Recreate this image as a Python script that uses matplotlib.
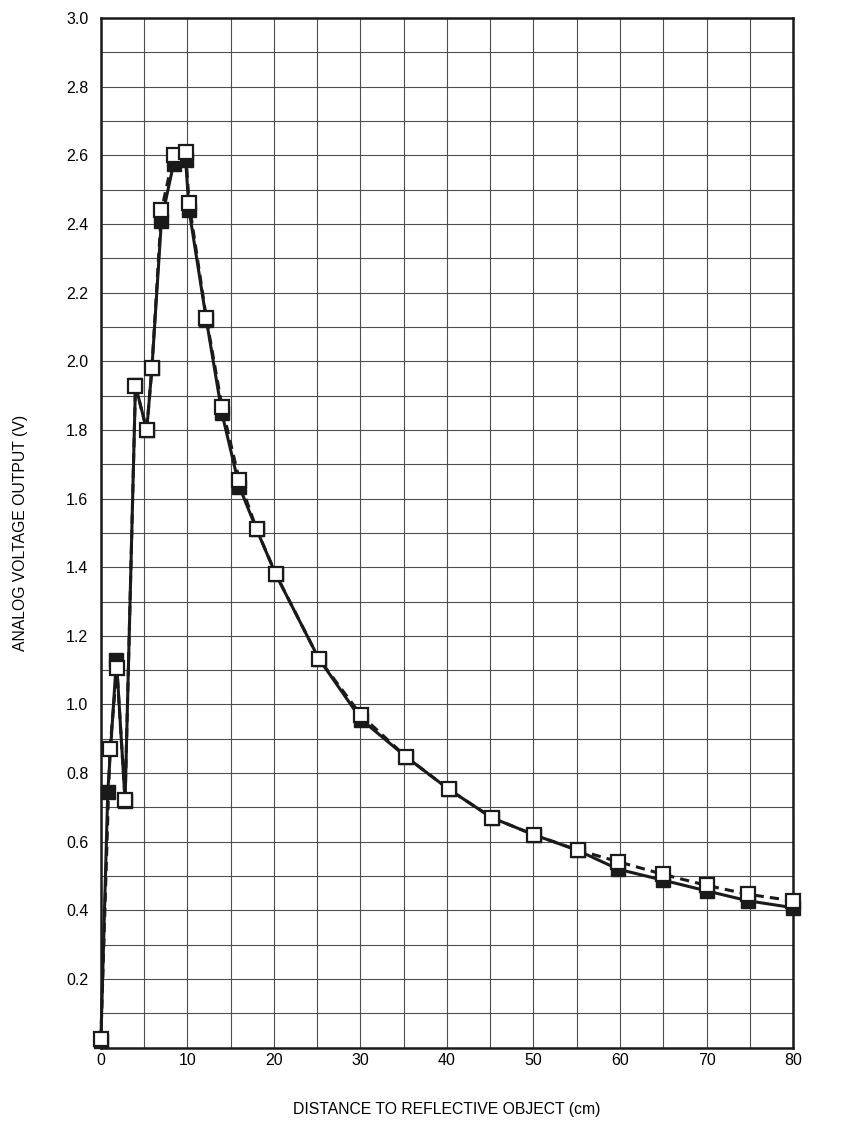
import matplotlib.pyplot as plt
import numpy as np

plt.rcParams["font.family"] = ["Liberation Sans", "DejaVu Sans"]

# Distance (cm) and output voltage (V) for the two curves
dist_solid = [0, 0.8, 1.8, 2.8, 4, 5.3, 5.9, 7, 8.4, 9.8, 10.2, 12.2, 14, 16, 18, 20.2,
              25.2, 30.1, 35.3, 40.2, 45.2, 50.1, 55.1, 59.8, 65, 70, 74.8, 80]
volt_solid = [0.02, 0.745, 1.13, 0.72, 1.93, 1.80, 1.98, 2.41, 2.575, 2.585, 2.44, 2.12, 1.848,
              1.635, 1.51, 1.38, 1.133, 0.956, 0.847, 0.753, 0.67, 0.62, 0.575, 0.52, 0.488,
              0.457, 0.428, 0.408]

dist_dashed = [0, 1.05, 1.85, 2.8, 4, 5.3, 5.9, 7, 8.4, 9.8, 10.2, 12.2, 14, 16, 18, 20.2,
               25.2, 30.1, 35.3, 40.2, 45.2, 50.1, 55.1, 59.8, 65, 70, 74.8, 80]
volt_dashed = [0.025, 0.871, 1.105, 0.722, 1.928, 1.80, 1.98, 2.44, 2.60, 2.61, 2.46, 2.125, 1.868,
               1.654, 1.511, 1.381, 1.133, 0.968, 0.847, 0.753, 0.67, 0.62, 0.576, 0.542, 0.505,
               0.473, 0.447, 0.428]

fig = plt.figure(figsize=(8.62, 11.29), dpi=100)
ax = fig.add_axes([0.117, 0.072, 0.803, 0.912])

ax.plot(dist_solid, volt_solid, color="#1a1a1a", lw=2.2, marker="s", markersize=9.5,
        markerfacecolor="#1a1a1a", markeredgecolor="#1a1a1a", zorder=3, clip_on=False)
ax.plot(dist_dashed, volt_dashed, color="#1a1a1a", lw=2.2, ls=(0, (3, 2)), marker="s",
        markersize=9.5, markerfacecolor="white", markeredgecolor="#1a1a1a",
        markeredgewidth=1.6, zorder=4, clip_on=False)

ax.set_xlim(0, 80)
ax.set_ylim(0, 3.0)
ax.set_xticks(np.arange(0, 81, 5), minor=True)
ax.set_yticks(np.arange(0, 3.01, 0.1), minor=True)
ax.set_xticks(np.arange(0, 81, 10))
ax.set_yticks(np.round(np.arange(0.2, 3.01, 0.2), 1))
ax.set_yticklabels([f"{v:.1f}" for v in np.arange(0.2, 3.01, 0.2)])
ax.grid(which="both", color="#4d4d4d", lw=0.8)
ax.set_axisbelow(True)
ax.tick_params(which="both", length=0, labelsize=11.5)
ax.tick_params(axis="y", pad=9)
ax.tick_params(axis="x", pad=4)
for s in ax.spines.values():
    s.set_linewidth(1.8)
    s.set_color("#1a1a1a")

ax.set_xlabel("DISTANCE TO REFLECTIVE OBJECT (cm)", fontsize=11.3)
ax.set_ylabel("ANALOG VOLTAGE OUTPUT (V)", fontsize=11.3)
ax.xaxis.set_label_coords(0.5, -0.0525)
ax.yaxis.set_label_coords(-0.105, 0.5)

fig.savefig("out.png", dpi=100)
